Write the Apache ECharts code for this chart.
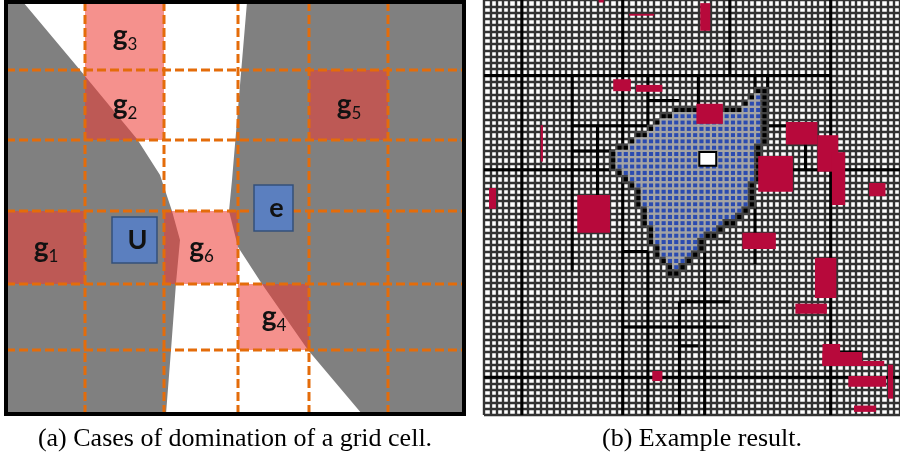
<!DOCTYPE html>
<html><head><meta charset="utf-8">
<script src="https://cdn.jsdelivr.net/npm/echarts@6/dist/echarts.min.js"></script>
<style>html,body{margin:0;padding:0;background:#fff}#c{width:900px;height:456px}</style>
</head><body><div id="c"></div>
<script>
// ---------- Panel (a): cases of domination ----------
const colEdges = [0, 79, 158, 232, 303, 382, 458];
const rowEdges = [0, 68, 138, 209, 282, 348, 412];
const grayLeft = [[0,0],[17,0],[74,68],[131,137],[154,173],[166,209],[174,238],[170,281],[165,348],[160,412],[0,412]];
const grayRight = [[241,0],[458,0],[458,412],[356,412],[302,348],[256,282],[232,245],[223,209],[226,178]];
const domCols = [0, 1, 1, 3, 4, 2];
const domRows = [3, 1, 0, 4, 1, 3];
const domNames = ['1', '2', '3', '4', '5', '6'];
const boxNames = ['U', 'e'];
const boxRects = [[106, 215, 45, 46], [248, 183, 39, 46]];
const captions = ['(a) Cases of domination of a grid cell.', '(b) Example result.'];

// ---------- Panel (b): example result (cell coordinates) ----------
const gridCells = 66;
const blobRows = [ // [startCol, row, endCol]
  [43,14,44],[42,15,44],[41,16,44],[30,17,44],[28,18,44],[27,19,44],[26,20,44],[24,21,44],[23,22,44],
  [21,23,43],[20,24,43],[20,25,43],[20,26,43],[21,27,43],[22,28,43],[23,29,42],[24,30,42],[24,31,42],
  [24,32,42],[25,33,41],[25,34,40],[25,35,39],[26,36,37],[26,37,36],[26,38,34],[27,39,34],[27,40,33],
  [28,41,32],[29,42,31],[29,43,30]
];
const startCell = [34, 24, 37, 26.5];
const redRects = [ // [c0, r0, c1, r1]
  [18.2,0,19,0.4],[23,2.2,27,2.5],[34.3,0.5,35.9,4.9],[20.5,12.6,23.3,14.5],[24.1,13.5,28.3,14.6],
  [9.0,19.9,9.35,25.7],[0.8,29.9,1.9,33.2],[14.8,31,20,37],[26.7,59,28.3,60.6],[33.7,16.5,37.9,19.7],
  [47.9,19.4,52.9,23],[52.9,21.5,56.2,27.3],[55.2,24.2,57.3,32.6],[43.5,24.8,49,30.5],[61.1,29.1,63.7,31.2],
  [41,37,46.3,39.6],[52.5,41,55.9,47.4],[49.4,48.3,54.4,49.9],[53.7,54.7,56.5,58],[53.7,56,60,58],
  [53.7,57.4,63.5,58.2],[57.8,59.8,63.8,61.5],[64.1,58,64.9,63.4],[58.7,64.5,62.2,65.5]
];
const thickLines = [ // [c0, r0, c1, r1]
  [6,0,6,66],[22,0,22,66],[55,0,55,66],[0,12,55,12],[0,27,20,27],[14,12,14,43],[14,20,26,20],
  [18,20,18,33],[14,24,21,24],[26,16,31,16],[26,12,26,20],[39,0,39,12],[34,12,34,17],[43,12,43,15],
  [45,12,45,18],[45,20,48,20],[49,27,66,27],[51,23,51,27],[0,60,66,60],[26,40,26,66],[22,52,39,52],
  [31,48,39,48],[31,55,34,55],[31,48,31,66],[22,40,26,40],[35,37,35,66],[43,32,43,42],[55,56,60,56]
];

const rowMap = {};
blobRows.forEach(r => { rowMap[r[1]] = [r[0], r[2]]; });
function covers(r, c) { const s = rowMap[r]; return !!s && c >= s[0] && c <= s[1]; }

const FONT = 'Lato, "Open Sans", sans-serif';
const chart = echarts.init(document.getElementById('c'), null, {renderer: 'canvas'});

const option = {
  animation: false,
  backgroundColor: '#fff',
  grid: [
    {left: 6, top: 2, width: 458, height: 412, show: false},
    {left: 484, top: 0, width: 416, height: 415, show: false}
  ],
  xAxis: [
    {type: 'value', gridIndex: 0, min: 0, max: 458, show: false},
    {type: 'value', gridIndex: 1, min: 0, max: gridCells, interval: 1,
     axisLine: {show: false}, axisTick: {show: false}, axisLabel: {show: false},
     splitLine: {show: true, lineStyle: {color: '#333', width: 2.4}}}
  ],
  yAxis: [
    {type: 'value', gridIndex: 0, min: 0, max: 412, inverse: true, show: false},
    {type: 'value', gridIndex: 1, min: 0, max: gridCells, interval: 1, inverse: true,
     axisLine: {show: false}, axisTick: {show: false}, axisLabel: {show: false},
     splitLine: {show: true, lineStyle: {color: '#333', width: 2.4}}}
  ],
  graphic: captions.map((t, i) => ({
    type: 'text', x: i === 0 ? 235 : 702, y: 439, z: 10,
    style: {text: t, font: '26px "Liberation Serif", serif', fill: '#000',
            align: 'center', verticalAlign: 'middle', textAlign: 'center', textVerticalAlign: 'middle'}
  })),
  series: [
    { // gray dominance regions
      type: 'custom', xAxisIndex: 0, yAxisIndex: 0, z: 2, silent: true,
      data: [grayLeft[0], grayRight[0]],
      renderItem: (params, api) => {
        const poly = params.dataIndex === 0 ? grayLeft : grayRight;
        return {type: 'polygon', shape: {points: poly.map(p => api.coord(p))}, style: {fill: '#808080'}};
      }
    },
    { // dominated cells
      type: 'custom', xAxisIndex: 0, yAxisIndex: 0, z: 3, silent: true,
      data: domCols.map((c, i) => [colEdges[c], rowEdges[domRows[i]]]),
      renderItem: (params, api) => {
        const i = params.dataIndex;
        const c = domCols[i], r = domRows[i];
        const p0 = api.coord([colEdges[c], rowEdges[r]]);
        const p1 = api.coord([colEdges[c + 1], rowEdges[r + 1]]);
        const cx = (p0[0] + p1[0]) / 2, cy = (p0[1] + p1[1]) / 2;
        return {type: 'group', children: [
          {type: 'rect', shape: {x: p0[0], y: p0[1], width: p1[0] - p0[0], height: p1[1] - p0[1]},
           style: {fill: 'rgba(238,58,52,0.56)'}},
          {type: 'text', style: {text: 'g', x: cx + 3, y: cy, fill: '#111', font: 'bold 28px ' + FONT,
            align: 'right', verticalAlign: 'middle', textAlign: 'right', textVerticalAlign: 'middle'}},
          {type: 'text', style: {text: domNames[i], x: cx + 3, y: cy + 9, fill: '#111', font: '17px ' + FONT,
            align: 'left', verticalAlign: 'middle', textAlign: 'left', textVerticalAlign: 'middle'}}
        ]};
      }
    },
    { // dashed grid
      type: 'custom', xAxisIndex: 0, yAxisIndex: 0, z: 4, silent: true,
      data: colEdges.slice(1, -1).map(x => [x, 0]).concat(rowEdges.slice(1, -1).map(y => [0, y])),
      renderItem: (params, api) => {
        const nv = colEdges.length - 2;
        let a, b;
        if (params.dataIndex < nv) {
          const x = colEdges[params.dataIndex + 1];
          a = api.coord([x, 0]); b = api.coord([x, 412]);
        } else {
          const y = rowEdges[params.dataIndex - nv + 1];
          a = api.coord([0, y]); b = api.coord([458, y]);
        }
        return {type: 'line', shape: {x1: a[0], y1: a[1], x2: b[0], y2: b[1]},
                style: {stroke: '#E46C0A', lineWidth: 3, lineDash: [9, 4]}};
      }
    },
    { // U and e boxes
      type: 'custom', xAxisIndex: 0, yAxisIndex: 0, z: 5, silent: true,
      data: boxRects.map(b => [b[0], b[1]]),
      renderItem: (params, api) => {
        const b = boxRects[params.dataIndex];
        const p0 = api.coord([b[0], b[1]]);
        const p1 = api.coord([b[0] + b[2], b[1] + b[3]]);
        return {type: 'group', children: [
          {type: 'rect', shape: {x: p0[0], y: p0[1], width: p1[0] - p0[0], height: p1[1] - p0[1]},
           style: {fill: '#5b7fbf', stroke: '#34507a', lineWidth: 1.5}},
          {type: 'text', style: {text: boxNames[params.dataIndex], x: (p0[0] + p1[0]) / 2 + 3, y: (p0[1] + p1[1]) / 2,
            fill: '#111', font: 'bold 27px ' + FONT, align: 'center', verticalAlign: 'middle',
            textAlign: 'center', textVerticalAlign: 'middle'}}
        ]};
      }
    },
    { // frame
      type: 'custom', xAxisIndex: 0, yAxisIndex: 0, z: 6, silent: true,
      data: [[0, 0]],
      renderItem: (params, api) => {
        const p0 = api.coord([0, 0]), p1 = api.coord([458, 412]);
        return {type: 'rect', shape: {x: p0[0], y: p0[1], width: p1[0] - p0[0], height: p1[1] - p0[1]},
                style: {fill: 'none', stroke: '#000', lineWidth: 4}};
      }
    },
    { // thick partition lines
      type: 'custom', xAxisIndex: 1, yAxisIndex: 1, z: 2, silent: true,
      data: thickLines.map(l => [l[0], l[1]]),
      renderItem: (params, api) => {
        const l = thickLines[params.dataIndex];
        const a = api.coord([l[0], l[1]]), b = api.coord([l[2], l[3]]);
        return {type: 'line', shape: {x1: a[0], y1: a[1], x2: b[0], y2: b[1]},
                style: {stroke: '#000', lineWidth: 3}};
      }
    },
    { // result region (blob)
      type: 'custom', xAxisIndex: 1, yAxisIndex: 1, z: 3, silent: true,
      data: blobRows.map(r => [r[0], r[1]]),
      renderItem: (params, api) => {
        const [c0, r, c1] = blobRows[params.dataIndex];
        const sz = api.size([1, 1]);
        const w = sz[0], h = sz[1], lw = 2.2;
        const outer = [], inner = [];
        for (let c = c0; c <= c1; c++) {
          const p = api.coord([c, r]);
          const border = c === c0 || c === c1 || !covers(r - 1, c) || !covers(r + 1, c);
          outer.push({type: 'rect', shape: {x: p[0] - lw / 2, y: p[1] - lw / 2, width: w + lw, height: h + lw},
                      style: {fill: border ? '#444' : '#a4a4a4'}});
          inner.push({type: 'rect', shape: {x: p[0] + lw / 2, y: p[1] + lw / 2, width: w - lw, height: h - lw},
                      style: {fill: border ? '#000' : '#2b4bb0'}});
        }
        return {type: 'group', children: outer.concat(inner)};
      }
    },
    { // query cell
      type: 'custom', xAxisIndex: 1, yAxisIndex: 1, z: 4, silent: true,
      data: [[startCell[0], startCell[1]]],
      renderItem: (params, api) => {
        const a = api.coord([startCell[0], startCell[1]]), b = api.coord([startCell[2], startCell[3]]);
        return {type: 'rect', shape: {x: a[0] + 1, y: a[1] + 1, width: b[0] - a[0] - 2, height: b[1] - a[1] - 2},
                style: {fill: '#fff', stroke: '#000', lineWidth: 2}};
      }
    },
    { // red obstacles
      type: 'custom', xAxisIndex: 1, yAxisIndex: 1, z: 5, silent: true,
      data: redRects.map(r => [r[0], r[1]]),
      renderItem: (params, api) => {
        const r = redRects[params.dataIndex];
        const a = api.coord([r[0], r[1]]), b = api.coord([r[2], r[3]]);
        return {type: 'rect', shape: {x: Math.min(a[0], b[0]), y: Math.min(a[1], b[1]),
                width: Math.abs(b[0] - a[0]), height: Math.abs(b[1] - a[1])}, style: {fill: '#b7093b'}};
      }
    }
  ]
};
chart.setOption(option);
</script>
</body></html>
